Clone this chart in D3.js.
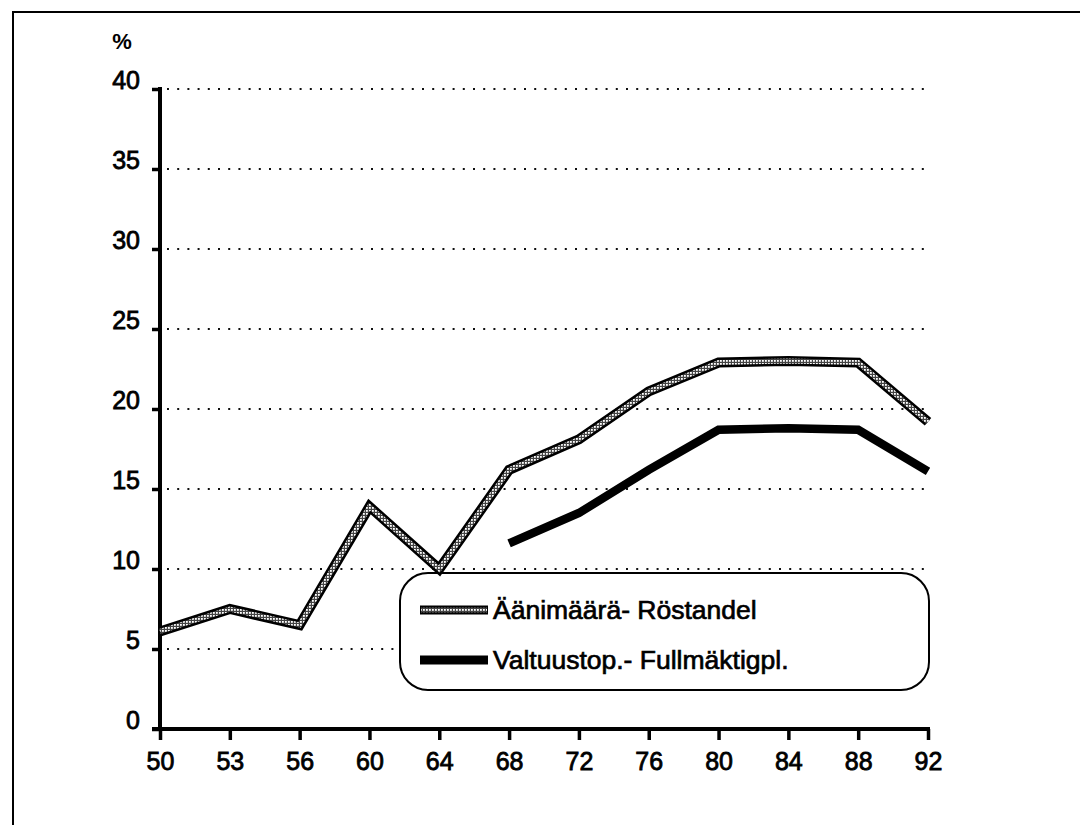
<!DOCTYPE html>
<html><head><meta charset="utf-8">
<script src="https://cdn.jsdelivr.net/npm/d3@7"></script>
<style>
html,body{margin:0;padding:0;background:#fff;}
text{font-family:"Liberation Sans",Arial,Helvetica,sans-serif;fill:#000;}
</style></head>
<body>
<svg id="chart" width="1080" height="825"></svg>
<script>
// ---- data ----
const years = ["50","53","56","60","64","68","72","76","80","84","88","92"];
const voteShare = [6.1, 7.5, 6.5, 13.9, 10.0, 16.2, 18.1, 21.1, 22.9, 23.0, 22.9, 19.2];
const seatShare = [null, null, null, null, null, 11.6, 13.5, 16.2, 18.7, 18.8, 18.7, 16.1];
const yTicks = [0, 5, 10, 15, 20, 25, 30, 35, 40];
const seriesNames = ["Äänimäärä- Röstandel", "Valtuustop.- Fullmäktigpl."];
const yUnit = "%";

// ---- layout ----
const svg = d3.select("#chart");
const x = d3.scalePoint().domain(years).range([160, 928]);
const y = d3.scaleLinear().domain([0, 40]).range([729, 89]);

// stipple pattern
const defs = svg.append("defs");
const pat = defs.append("pattern").attr("id","stip").attr("patternUnits","userSpaceOnUse")
  .attr("width",3).attr("height",3);
pat.append("rect").attr("width",3).attr("height",3).attr("fill","#444");
pat.append("rect").attr("width",1.8).attr("height",1.8).attr("fill","#fff");

// frame
svg.append("path").attr("d","M13,825 L13,12 L1080,12").attr("fill","none")
  .attr("stroke","#000").attr("stroke-width",2);

// gridlines
svg.append("g").selectAll("line").data(yTicks.filter(d => d > 0)).join("line")
  .attr("x1", 167).attr("x2", 930)
  .attr("y1", d => y(d)).attr("y2", d => y(d))
  .attr("stroke", "#111").attr("stroke-width", 2)
  .attr("stroke-dasharray", "2 8.2");

// y axis
const yAxis = svg.append("g").attr("transform","translate(160,0)")
  .call(d3.axisLeft(y).tickValues(yTicks).tickSize(8).tickPadding(15).tickFormat(d3.format("d")));
yAxis.attr("font-size", null).attr("font-family", null);
yAxis.select(".domain").remove();
yAxis.selectAll(".tick line").attr("stroke","#000").attr("stroke-width",3.5);
yAxis.selectAll(".tick text").attr("font-size","25px").attr("dy","-0.02em")
  .attr("x", -20)
  .attr("stroke","#000").attr("stroke-width",0.8);
svg.append("line").attr("x1",160).attr("x2",160).attr("y1",y(40)-2).attr("y2",y(0)+2)
  .attr("stroke","#000").attr("stroke-width",4);

// x axis
const xAxis = svg.append("g").attr("transform","translate(0,729)")
  .call(d3.axisBottom(x).tickSize(11).tickPadding(14));
xAxis.attr("font-size", null).attr("font-family", null);
xAxis.select(".domain").remove();
xAxis.selectAll(".tick line").attr("stroke","#000").attr("stroke-width",3.5);
xAxis.selectAll(".tick text").attr("font-size","25px").attr("dy","0.62em")
  .attr("stroke","#000").attr("stroke-width",0.8);
svg.append("line").attr("x1",152).attr("x2",930).attr("y1",729).attr("y2",729)
  .attr("stroke","#000").attr("stroke-width",4);

// unit label
svg.append("text").attr("x",122).attr("y",49).attr("text-anchor","middle")
  .attr("font-size","22px").attr("font-weight","bold").text(yUnit);

// legend box
const lg = svg.append("g");
lg.append("rect").attr("x",400).attr("y",573).attr("width",529).attr("height",117)
  .attr("rx",28).attr("ry",28).attr("fill","#fff").attr("stroke","#000").attr("stroke-width",2);
const lgY = [610, 660];
lg.append("line").attr("x1",420).attr("x2",488).attr("y1",lgY[0]).attr("y2",lgY[0])
  .attr("stroke","#000").attr("stroke-width",9);
lg.append("line").attr("x1",421).attr("x2",487).attr("y1",lgY[0]).attr("y2",lgY[0])
  .attr("stroke","url(#stip)").attr("stroke-width",4.5);
lg.append("line").attr("x1",420).attr("x2",488).attr("y1",lgY[1]).attr("y2",lgY[1])
  .attr("stroke","#000").attr("stroke-width",9);
lg.selectAll("text.lt").data(seriesNames).join("text").attr("class","lt")
  .attr("x",493).attr("y",(d,i)=>lgY[i]+9).attr("font-size","26.5px")
  .attr("stroke","#000").attr("stroke-width",0.7).text(d=>d);

// lines
const line = d3.line().defined(d => d[1] != null).x(d => x(d[0])).y(d => y(d[1]));
const voteData = years.map((yr,i)=>[yr, voteShare[i]]);
const seatData = years.map((yr,i)=>[yr, seatShare[i]]);
svg.append("path").attr("d", line(voteData)).attr("fill","none")
  .attr("stroke","#000").attr("stroke-width",10).attr("stroke-linejoin","miter");
svg.append("path").attr("d", line(voteData)).attr("fill","none")
  .attr("stroke","url(#stip)").attr("stroke-width",5).attr("stroke-linejoin","miter");
svg.append("path").attr("d", line(seatData)).attr("fill","none")
  .attr("stroke","#000").attr("stroke-width",8.5).attr("stroke-linejoin","miter");
</script>
</body></html>
